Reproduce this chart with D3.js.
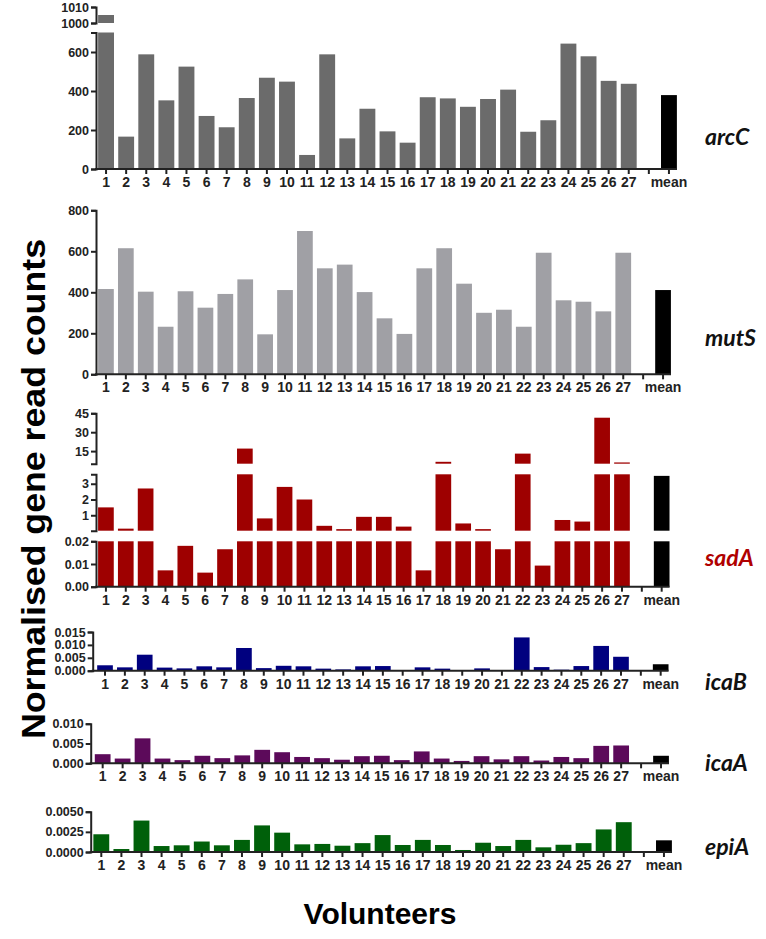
<!DOCTYPE html>
<html>
<head>
<meta charset="utf-8">
<script src="https://cdn.jsdelivr.net/npm/d3@7.9.0/dist/d3.min.js"></script>
<style>
  body { margin: 0; background: #fff; }
  svg { display: block; }
  .tick text { font-family: "Liberation Sans", Arial, sans-serif; font-weight: bold; fill: #222; }
  .gene { font-family: Lato, "Open Sans", sans-serif; font-weight: bold; font-style: italic; font-size: 23px; }
  .title { font-family: "Liberation Sans", Arial, sans-serif; font-weight: bold; font-size: 31px; }
</style>
</head>
<body>
<svg id="chart" width="766" height="939"></svg>
<script>
// volunteers 1..27, an empty slot, then the mean
const categories = ['1','2','3','4','5','6','7','8','9','10','11','12','13','14','15','16','17','18','19','20','21','22','23','24','25','26','27','','mean'];

// one value per volunteer, then the mean
const arcC = [1005,166,588,352,525,272,214,364,468,448,72,588,157,309,193,135,368,362,319,359,407,191,250,643,578,452,437];
const arcCMean = 379;
const mutS = [416,615,403,232,405,325,392,463,195,411,699,517,535,401,273,197,517,615,442,300,315,232,593,361,354,307,593];
const mutSMean = 411;
const sadA = [1.5,0.15,2.7,0.0072,0.018,0.0062,0.0165,17,0.8,2.8,2.0,0.33,0.12,0.9,0.9,0.28,0.0072,6.5,0.48,0.12,0.0165,13,0.0093,0.7,0.6,41.5,6];
const sadAMean = 3.5;
const icaB = [0.0021,0.0013,0.0062,0.0012,0.0009,0.0017,0.0013,0.0088,0.0010,0.0019,0.0017,0.0008,0.0005,0.0017,0.0018,0.0001,0.0013,0.0008,0.0001,0.0009,0.0001,0.0129,0.0014,0.0004,0.0018,0.0096,0.0054];
const icaBMean = 0.0025;
const icaA = [0.0023,0.0012,0.0063,0.0012,0.0008,0.0019,0.0013,0.0020,0.0034,0.0028,0.0016,0.0013,0.0009,0.0018,0.0019,0.0008,0.0030,0.0012,0.0006,0.0018,0.0010,0.0018,0.0007,0.0016,0.0013,0.0044,0.0045];
const icaAMean = 0.0019;
const epiA = [0.0022,0.00037,0.0039,0.00074,0.00083,0.0013,0.00083,0.0015,0.0033,0.0024,0.00095,0.0010,0.00078,0.0011,0.0021,0.00087,0.0015,0.00087,0.00025,0.00115,0.00074,0.0015,0.00058,0.0009,0.0011,0.0028,0.0037];
const epiAMean = 0.00145;

const panels = [
  { name: 'arcC', values: arcC, mean: arcCMean, color: '#6b6b6b', label: '#111',
    axisX: 96, band: [96, 679], base: 169, labelY: 137,
    segs: [
      { domain: [0, 700], range: [169, 32.5], ticks: [0, 200, 400, 600], fmt: d3.format('d') },
      { domain: [1000, 1010], range: [23, 7], ticks: [1000, 1010], fmt: d3.format('d') }
    ] },
  { name: 'mutS', values: mutS, mean: mutSMean, color: '#a0a0a5', label: '#111',
    axisX: 96, band: [96, 673], base: 374.3, labelY: 338,
    segs: [
      { domain: [0, 800], range: [374.3, 210.3], ticks: [0, 200, 400, 600, 800], fmt: d3.format('d') }
    ] },
  { name: 'sadA', values: sadA, mean: sadAMean, color: '#9e0000', label: '#b00000',
    axisX: 96, band: [96, 671.6], base: 586.7, labelY: 558,
    segs: [
      { domain: [0, 0.02], range: [586.7, 541.3], ticks: [0, 0.01, 0.02], fmt: d3.format('.2f') },
      { domain: [0.02, 3.6], range: [530.7, 474.3], ticks: [1, 2, 3], fmt: d3.format('d') },
      { domain: [5, 45], range: [463.7, 413.3], ticks: [15, 30, 45], fmt: d3.format('d') }
    ] },
  { name: 'icaB', values: icaB, mean: icaBMean, color: '#00007f', label: '#111',
    axisX: 92.7, band: [95.1, 670.6], base: 670.7, labelY: 682,
    segs: [
      { domain: [0, 0.015], range: [670.7, 632], ticks: [0, 0.005, 0.01, 0.015], fmt: d3.format('.3f') }
    ] },
  { name: 'icaA', values: icaA, mean: icaAMean, color: '#5c0a5a', label: '#111',
    axisX: 90.7, band: [92.7, 671], base: 763.3, labelY: 763,
    segs: [
      { domain: [0, 0.01], range: [763.3, 723.7], ticks: [0, 0.005, 0.01], fmt: d3.format('.3f') }
    ] },
  { name: 'epiA', values: epiA, mean: epiAMean, color: '#00600a', label: '#111',
    axisX: 90.7, band: [91.25, 674], base: 852, labelY: 847,
    segs: [
      { domain: [0, 0.005], range: [852, 811.7], ticks: [0, 0.0025, 0.005], fmt: d3.format('.4f') }
    ] }
];

const svg = d3.select('#chart');

panels.forEach((p) => {
  const g = svg.append('g');
  const x = d3.scaleBand().domain(categories).range(p.band).paddingInner(0.21).paddingOuter(0.105);
  const data = p.values.map((v, i) => ({ cat: categories[i], v: v, mean: false }));
  data.push({ cat: 'mean', v: p.mean, mean: true });

  p.segs.forEach((s) => {
    const y = d3.scaleLinear().domain(s.domain).range(s.range);
    g.selectAll(null)
      .data(data.filter((d) => d.v > s.domain[0]))
      .enter()
      .append('rect')
      .attr('x', (d) => x(d.cat))
      .attr('width', x.bandwidth())
      .attr('y', (d) => y(Math.min(d.v, s.domain[1])))
      .attr('height', (d) => y(s.domain[0]) - y(Math.min(d.v, s.domain[1])))
      .attr('fill', (d) => d.mean ? '#000' : p.color);

    const ax = g.append('g')
      .attr('transform', `translate(${p.axisX},0)`)
      .call(d3.axisLeft(y).tickValues(s.ticks).tickFormat(s.fmt).tickSize(5).tickSizeOuter(5).tickPadding(2));
    ax.select('.domain').attr('stroke', '#222').attr('stroke-width', 2);
    ax.selectAll('.tick line').attr('stroke', '#222').attr('stroke-width', 2);
    ax.selectAll('.tick text').attr('font-size', 12.5);
  });

  // x axis
  const xa = g.append('g')
    .attr('transform', `translate(0,${p.base})`)
    .call(d3.axisBottom(x).tickSize(5).tickSizeOuter(0).tickPadding(3));
  xa.select('.domain').remove();
  xa.selectAll('.tick line').attr('stroke', '#222').attr('stroke-width', 2);
  xa.selectAll('.tick text').attr('font-size', 14);
  g.append('line')
    .attr('x1', p.axisX - 1).attr('x2', p.band[1] - 2)
    .attr('y1', p.base).attr('y2', p.base)
    .attr('stroke', '#222').attr('stroke-width', 2);

  g.append('text')
    .attr('class', 'gene')
    .attr('x', 705).attr('y', p.labelY)
    .attr('dy', '0.35em')
    .attr('fill', p.label)
    .text(p.name);
});

svg.append('text')
  .attr('class', 'title')
  .attr('transform', 'translate(45,489) rotate(-90)')
  .attr('text-anchor', 'middle')
  .attr('font-size', 33)
  .style('font-size', '33px')
  .attr('textLength', 500)
  .attr('lengthAdjust', 'spacingAndGlyphs')
  .text('Normalised gene read counts');

svg.append('text')
  .attr('class', 'title')
  .attr('x', 380).attr('y', 924)
  .attr('text-anchor', 'middle')
  .style('font-size', '30px')
  .text('Volunteers');
</script>
</body>
</html>
